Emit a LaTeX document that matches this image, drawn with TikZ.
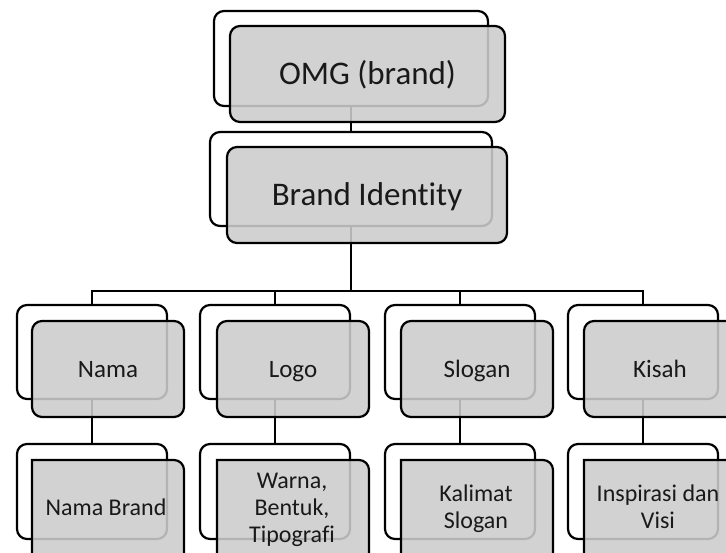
\documentclass[tikz,border=0pt]{standalone}
\usepackage{fontspec}
\setmainfont{Carlito}[Ligatures=NoCommon]
\definecolor{boxfill}{RGB}{204,204,204}
\definecolor{txt}{RGB}{25,25,25}
\newcommand\bstrut{\rule[-8pt]{0pt}{37pt}}
\newcommand\mstrut{\rule[-6pt]{0pt}{28pt}}
\newcommand\lstrut{\rule[-6pt]{0pt}{23pt}}
\begin{document}
\begin{tikzpicture}[x=1pt,y=-1pt,
  backbox/.style={draw=black, line width=2.2pt, rounded corners=10pt, fill=white,
    inner sep=0pt, outer sep=0pt, anchor=north west},
  frontbox/.style={draw=black, line width=2.2pt, rounded corners=10pt, fill=boxfill, fill opacity=0.88,
    text opacity=1, text=txt, inner sep=0pt, outer sep=0pt, anchor=north west, align=center},
  lowshape/.style={draw=black, line width=2.2pt, fill=boxfill, fill opacity=0.88},
  lowtext/.style={text=txt, align=center, inner sep=0pt,
    font=\fontsize{24}{27}\selectfont},
  conn/.style={draw=black, line width=2pt},
  bigfont/.style={font=\fontsize{33}{38}\selectfont},
  midfont/.style={font=\fontsize{25}{30}\selectfont}
]
\useasboundingbox (0,0) rectangle (726,552);
\clip (0,0) rectangle (726,552);

% back boxes
\node[backbox, minimum width=274pt, minimum height=95pt] (b1) at (214,11) {};
\node[backbox, minimum width=282pt, minimum height=94pt] (b2) at (210,132) {};
\foreach \i/\x in {1/17,2/200,3/385,4/568}{
  \node[backbox, minimum width=150pt, minimum height=94pt] (c\i) at (\x,305) {};
  \node[backbox, minimum width=150pt, minimum height=95pt] (d\i) at (\x,444) {};
}

% connectors
\coordinate (fork) at (351,291);
\draw[conn] (b1.south) -- (b2.north);
\draw[conn] (b2.south) -- (fork);
\draw[conn] (c1.north) |- (c4.north |- fork) -- (c4.north);
\draw[conn] (c2.north) -- (c2.north |- fork);
\draw[conn] (c3.north) -- (c3.north |- fork);
\foreach \i in {1,2,3,4}{
  \draw[conn] (c\i.south) -- (d\i.north);
}

% front boxes
\node[frontbox, bigfont, minimum width=275pt, minimum height=96pt] (f1) at (230,26) {\bstrut OMG (brand)};
\node[frontbox, bigfont, minimum width=280pt, minimum height=96pt] (f2) at (227,147) {\bstrut Brand Identity};
\node[frontbox, midfont, minimum width=152pt, minimum height=96pt] (g1) at (32,321) {\mstrut Nama};
\node[frontbox, midfont, minimum width=152pt, minimum height=96pt] (g2) at (217,321) {\mstrut Logo};
\node[frontbox, midfont, minimum width=152pt, minimum height=96pt] (g3) at (401,321) {\mstrut Slogan};
\node[frontbox, midfont, minimum width=152pt, minimum height=96pt] (g4) at (584,321) {\mstrut Kisah};

% bottom front boxes (square top-left corner)
\foreach \x in {32,217,401,584}{
  \path[lowshape] (\x,570) -- (\x,460) -- ({\x+142},460)
     arc[start angle=90, end angle=0, radius=10pt] -- ({\x+152},570);
}
\node[lowtext] (h1) at (106,509.5) {\lstrut Nama Brand};
\node[lowtext] (h2) at (292,509.5) {\lstrut Warna,\\\lstrut Bentuk,\\\lstrut Tipografi};
\node[lowtext] (h3) at (476,509.5) {\lstrut Kalimat\\\lstrut Slogan};
\node[lowtext] (h4) at (658,509.5) {\lstrut Inspirasi dan\\\lstrut Visi};
\end{tikzpicture}
\end{document}
